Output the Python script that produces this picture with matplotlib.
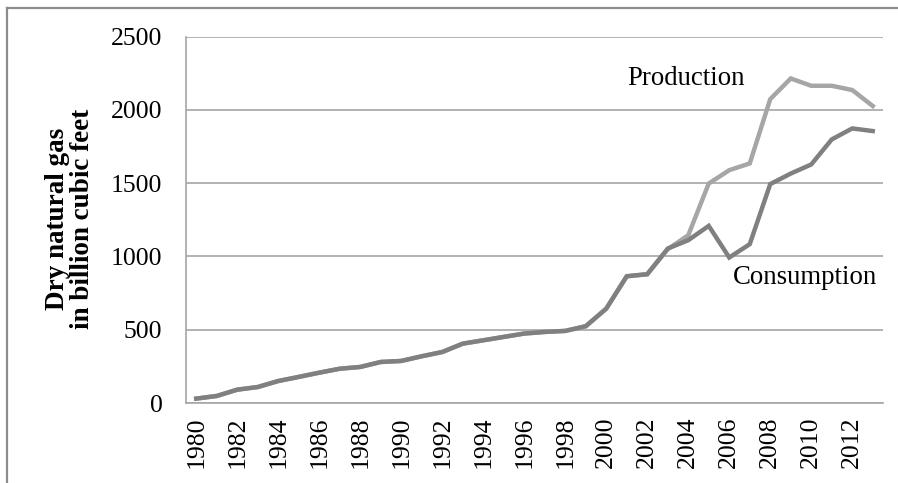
import matplotlib
matplotlib.use("Agg")
import matplotlib.pyplot as plt
from matplotlib.lines import Line2D

years = list(range(1980, 2014))
consumption = [30, 48, 91, 109, 150, 178, 207, 234, 246, 280, 287, 319, 348, 405,
               428, 451, 474, 485, 492, 524, 644, 865, 879, 1054, 1111, 1209, 993,
               1084, 1494, 1566, 1628, 1799, 1874, 1856]
production = [30, 48, 91, 109, 150, 178, 207, 234, 246, 280, 287, 319, 348, 405,
              428, 451, 474, 485, 492, 524, 644, 865, 879, 1050, 1145, 1498, 1589,
              1635, 2074, 2215, 2165, 2165, 2136, 2027]
yticks = [0, 500, 1000, 1500, 2000, 2500]

plt.rcParams['font.family'] = ['Liberation Serif', 'DejaVu Serif']

fig = plt.figure(figsize=(8.98, 4.83), dpi=100)
ax = fig.add_axes([186/898, 1-403/483, (883-186)/898, (403-36.7)/483])

x = list(range(len(years)))
ax.plot(x, production, color='#A6A6A6', lw=3.2, solid_joinstyle='miter', zorder=3)
ax.plot(x, consumption, color='#808080', lw=3.2, solid_joinstyle='miter', zorder=4)

ax.set_xlim(-0.5, len(years) - 0.5)
ax.set_ylim(0, 2500)
ax.set_yticks(yticks)
ax.set_yticklabels([str(v) for v in yticks])
ax.set_xticks(x[::2])
ax.set_xticklabels([str(y) for y in years[::2]], rotation=90, va='top', ha='center')
ax.tick_params(axis='both', length=0, labelsize=18.5, colors='black')
ax.tick_params(axis='y', pad=17)
ax.tick_params(axis='x', pad=10)
ax.yaxis.grid(True, color='#A6A6A6', lw=1.2)
ax.set_axisbelow(True)
for s in ['top', 'right']:
    ax.spines[s].set_visible(False)
for s in ['left', 'bottom']:
    ax.spines[s].set_color('#A6A6A6')
    ax.spines[s].set_linewidth(1.2)

ax.text(21.0, 2218, 'Production', fontsize=19.3, ha='left', va='center')
ax.text(26.2, 858, 'Consumption', fontsize=19.3, ha='left', va='center')

fig.text(70/898, 1-219/483, 'Dry natural gas\nin billion cubic feet', rotation=90,
         ha='center', va='center', multialignment='center', fontsize=19.5,
         fontweight='bold', linespacing=0.95)

# outer frame (top and left edges)
fig.add_artist(Line2D([7/898, 1], [1-8/483, 1-8/483], color='#8C8C8C', lw=1.6, transform=fig.transFigure))
fig.add_artist(Line2D([7/898, 7/898], [0, 1-8/483], color='#8C8C8C', lw=1.6, transform=fig.transFigure))

fig.savefig('out.png', dpi=100)
